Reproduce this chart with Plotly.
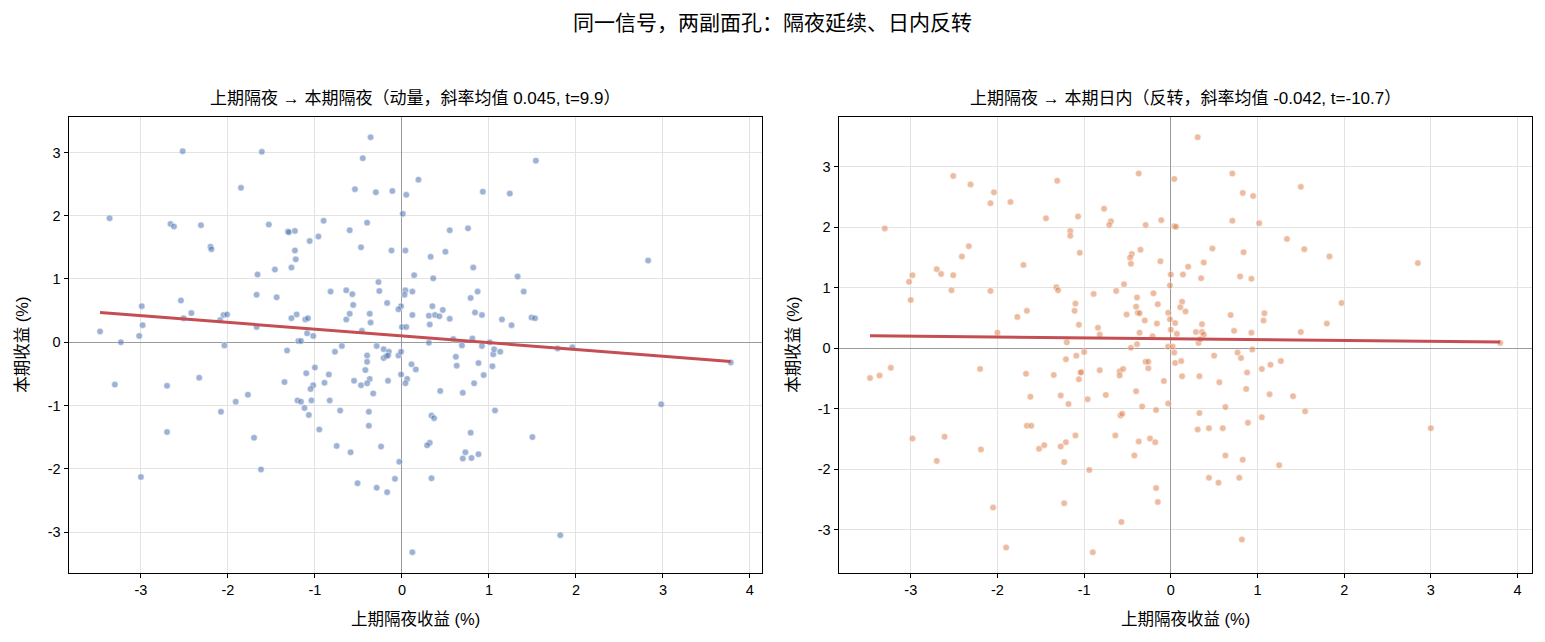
import numpy as np
import plotly.graph_objects as go

# ---------------- data ----------------
left_x = [-2.52,-1.61,-0.36,-0.45,0.19,-1.85,-0.54,-0.30,-0.11,0.05,-3.36,0.01,-2.66,-2.62,-2.31,-1.53,-1.31,-1.30,-1.23,-0.90,
          -0.60,-0.40,-2.20,-2.19,-1.06,-0.96,-1.23,-1.22,-0.47,-0.12,0.04,-1.27,-1.46,-1.66,0.14,-0.27,-0.82,-0.64,-0.57,-0.26,
          0.04,0.12,0.03,-1.67,-1.44,-2.54,-0.56,-0.17,-2.99,-0.01,-0.04,-2.42,-2.51,-2.05,-2.01,-2.09,-1.21,-1.27,-1.11,-1.08,
          -0.60,-0.64,-0.37,-0.36,0.12,-3.47,-2.98,-3.02,-1.67,-0.46,0.00,0.05,-1.09,-1.02,-3.23,-2.04,-1.19,-1.16,-0.69,-0.29,
          1.54,0.93,1.24,0.55,0.76,0.33,0.50,2.83,0.82,0.36,1.33,0.87,1.40,0.79,0.35,0.47,0.31,0.38,0.43,0.55,
          0.84,0.92,1.15,1.26,1.49,1.53,0.32,0.59,0.81,0.31,0.69,0.92,1.01,1.96,1.79,
          -1.32,-0.77,-0.21,-0.15,-0.40,-0.21,-0.18,-0.16,-0.04,-0.01,-0.40,0.11,0.16,-1.00,-1.10,-0.42,-0.37,-0.84,-0.01,0.06,
          0.04,-3.30,-2.70,-2.33,-1.35,-1.02,-1.05,-0.89,-0.55,-0.47,-0.40,-0.16,-0.33,-1.91,-1.77,-1.20,-1.16,-1.04,-0.83,-1.12,
          -1.07,-0.71,-0.38,-2.08,-0.95,-0.38,-2.70,-1.70,-0.75,-0.59,-0.24,-0.03,-1.62,-3.00,-0.51,-0.29,-0.17,-0.08,0.12,
          0.62,0.63,0.88,1.05,1.06,1.13,1.04,0.94,0.83,0.70,0.44,3.78,2.98,1.07,0.34,0.37,0.79,1.50,0.32,0.29,
          0.73,0.88,0.70,0.80,0.34,1.82]
left_y = [3.02,3.01,3.24,2.91,2.57,2.44,2.42,2.37,2.39,2.33,1.96,2.03,1.87,1.83,1.85,1.86,1.75,1.74,1.76,1.92,
          1.77,1.89,1.51,1.47,1.60,1.67,1.45,1.31,1.50,1.45,1.45,1.18,1.15,1.07,1.06,0.95,0.80,0.82,0.76,0.81,
          0.82,0.80,0.75,0.75,0.71,0.66,0.59,0.62,0.57,0.57,0.52,0.46,0.38,0.43,0.44,0.35,0.44,0.38,0.36,0.38,
          0.45,0.36,0.45,0.31,0.43,0.17,0.27,0.10,0.24,0.18,0.24,0.24,0.14,0.10,0.00,-0.05,0.02,0.02,-0.06,-0.06,
          2.87,2.38,2.35,1.77,1.80,1.35,1.43,1.29,1.18,1.01,1.04,0.80,0.80,0.70,0.57,0.51,0.42,0.43,0.41,0.37,
          0.47,0.43,0.36,0.27,0.39,0.38,0.28,0.05,0.06,-0.01,-0.05,-0.06,0.00,-0.08,-0.10,
          -0.13,-0.15,-0.11,-0.15,-0.21,-0.25,-0.22,-0.21,-0.21,-0.15,-0.31,-0.35,-0.43,-0.40,-0.49,-0.44,-0.58,-0.51,-0.51,-0.58,
          -0.65,-0.67,-0.69,-0.56,-0.63,-0.68,-0.74,-0.64,-0.61,-0.68,-0.65,-0.61,-0.81,-0.94,-0.83,-0.92,-0.94,-0.92,-0.92,-1.04,
          -1.15,-1.08,-1.10,-1.10,-1.38,-1.32,-1.42,-1.51,-1.64,-1.74,-1.65,-1.89,-2.01,-2.13,-2.23,-2.30,-2.37,-2.16,-3.32,
          -0.23,-0.37,-0.33,-0.19,-0.11,-0.15,-0.38,-0.52,-0.65,-0.80,-0.77,-0.32,-0.98,-1.08,-1.16,-1.20,-1.43,-1.50,-1.59,-1.63,
          -1.74,-1.77,-1.84,-1.83,-2.15,-3.05]

right_x = [-0.37,0.04,-2.51,-2.31,-2.04,-2.08,-1.85,-1.31,-1.44,-0.77,-1.07,-0.69,-0.71,-0.29,-0.11,0.04,0.06,-3.30,-1.16,-1.16,
           -2.33,-2.41,-1.05,-0.35,-0.45,-0.47,-0.46,-0.12,-1.70,-2.70,-2.65,-2.98,-3.02,-2.51,0.00,0.14,-0.01,-0.54,-2.53,-2.08,
           -1.32,-1.30,-0.89,-0.63,-0.20,-3.00,-0.39,-1.10,-0.15,0.13,0.11,-1.11,-0.40,-0.38,-0.36,-1.66,-1.77,-0.51,-0.30,-0.16,
           -0.03,-0.01,0.05,-1.06,-0.84,-0.82,-2.00,-0.36,-0.21,0.00,0.07,-1.20,-0.46,-0.39,-1.00,-0.03,0.02,
           0.31,0.71,1.50,0.83,0.95,0.71,1.02,1.34,0.48,0.84,1.54,1.83,2.85,0.20,0.38,0.35,0.80,0.93,1.97,0.17,
           0.69,1.08,1.07,1.80,0.36,0.29,0.36,0.38,0.73,0.93,1.50,0.32,0.34,3.80,
           -1.21,-1.09,0.05,0.12,-0.29,-0.26,-0.26,-3.23,-3.36,-3.47,-2.20,-1.67,-1.35,-1.03,-1.04,-0.82,-0.59,-0.55,-0.59,-1.06,
           -0.08,0.13,-0.40,-1.62,-1.27,-1.18,-0.96,-0.75,-0.33,-0.17,-0.03,-0.58,-0.56,-1.66,-1.61,-1.10,-0.64,-2.98,-2.61,-1.52,
           -1.46,-1.27,-1.21,-0.37,-0.24,-0.18,-0.42,-2.19,-2.70,-1.23,-0.94,-0.17,-0.15,-2.05,-1.23,-0.57,-1.90,-0.90,
           0.04,0.50,0.77,0.81,0.94,0.33,0.56,0.88,1.05,1.15,1.27,0.87,1.14,1.41,0.63,0.33,1.05,1.55,0.89,0.31,
           0.44,0.60,3.00,0.63,0.83,1.25,0.44,0.55,0.79,0.82]
right_y = [2.89,2.80,2.85,2.71,2.58,2.40,2.42,2.77,2.15,2.31,2.18,2.10,2.04,2.04,2.12,2.02,2.01,1.98,1.94,1.86,
           1.69,1.52,1.58,1.63,1.56,1.50,1.40,1.44,1.38,1.31,1.23,1.21,1.10,1.21,1.22,1.22,1.04,1.06,0.96,0.95,
           1.01,0.96,0.90,0.95,0.91,0.80,0.84,0.74,0.73,0.77,0.68,0.62,0.69,0.59,0.58,0.62,0.52,0.56,0.46,0.41,
           0.59,0.48,0.42,0.39,0.34,0.23,0.26,0.26,0.20,0.31,0.24,0.10,0.01,0.07,-0.06,0.03,0.03,
           3.49,2.89,2.67,2.57,2.52,2.11,2.07,1.81,1.65,1.59,1.64,1.52,1.41,1.35,1.42,1.16,1.19,1.15,0.75,0.61,
           0.55,0.58,0.46,0.41,0.40,0.27,0.27,0.23,0.29,0.26,0.27,0.09,0.15,0.09,
           -0.18,-0.12,-0.24,-0.21,-0.22,-0.22,-0.33,-0.32,-0.45,-0.49,-0.34,-0.42,-0.44,-0.39,-0.40,-0.36,-0.38,-0.34,-0.45,-0.51,
           -0.54,-0.46,-0.71,-0.80,-0.78,-0.92,-0.84,-0.77,-0.96,-1.02,-0.91,-1.11,-1.08,-1.28,-1.28,-1.44,-1.44,-1.49,-1.46,-1.66,
           -1.60,-1.62,-1.55,-1.54,-1.49,-1.55,-1.77,-1.67,-1.86,-1.88,-2.01,-2.31,-2.54,-2.63,-2.56,-2.87,-3.29,-3.37,
           -0.07,-0.12,-0.07,-0.16,-0.02,-0.46,-0.56,-0.40,-0.34,-0.27,-0.21,-0.67,-0.76,-0.79,-0.97,-1.07,-1.14,-1.04,-1.23,-1.34,
           -1.32,-1.32,-1.32,-1.77,-1.84,-1.93,-2.14,-2.22,-2.14,-3.16]

# fitted lines (intercept, slope) as drawn
left_fit = (0.10, -0.107)
right_fit = (0.16, -0.0145)

x_ticks = [-3, -2, -1, 0, 1, 2, 3, 4]
y_ticks = [-3, -2, -1, 0, 1, 2, 3]

suptitle = "同一信号，两副面孔：隔夜延续、日内反转"
left_title = "上期隔夜 → 本期隔夜（动量，斜率均值 0.045, t=9.9）"
right_title = "上期隔夜 → 本期日内（反转，斜率均值 -0.042, t=-10.7）"
x_label = "上期隔夜收益 (%)"
y_label = "本期收益 (%)"

# ---------------- figure ----------------
FONT = "Liberation Sans, Arial, Noto Sans CJK SC, sans-serif"
W, H = 1545, 642

def pad_range(v):
    lo, hi = min(v), max(v)
    p = (hi - lo) * 0.05
    return [lo - p, hi + p]

fig = go.Figure()

panels = [
    (left_x, left_y, left_fit, "rgba(76,114,176,0.55)", "x", "y"),
    (right_x, right_y, right_fit, "rgba(221,132,82,0.55)", "x2", "y2"),
]
for xs, ys, fit, col, xa, ya in panels:
    fig.add_trace(go.Scatter(
        x=xs, y=ys, mode="markers", xaxis=xa, yaxis=ya, showlegend=False,
        marker=dict(size=6.5, color=col, line=dict(color="white", width=0.5)),
        hoverinfo="skip"))
    lx = np.linspace(min(xs), max(xs), 50)
    ly = fit[0] + fit[1] * lx
    fig.add_trace(go.Scatter(
        x=lx, y=ly, mode="lines", xaxis=xa, yaxis=ya, showlegend=False,
        line=dict(color="#C44E52", width=3), hoverinfo="skip"))

def axis_common():
    return dict(
        showline=True, linecolor="black", linewidth=1, mirror=True,
        ticks="outside", ticklen=4, tickwidth=1, tickcolor="black",
        showgrid=True, gridcolor="#e3e3e3", gridwidth=1,
        zeroline=True, zerolinecolor="#9a9a9a", zerolinewidth=1,
        tickfont=dict(family=FONT, size=14.5, color="black"),
    )

xdom_l = [68.5 / W, 762.3 / W]
xdom_r = [838.5 / W, 1531.7 / W]
ydom = [69 / H, 525.5 / H]

fig.update_layout(
    width=W, height=H, margin=dict(l=0, r=0, t=0, b=0),
    plot_bgcolor="white", paper_bgcolor="white",
    font=dict(family=FONT, color="black"),
)

xt_text = [str(t) for t in x_ticks]
yt_text = [str(t) for t in y_ticks]

fig.update_layout(
    xaxis=dict(domain=xdom_l, anchor="y", range=pad_range(left_x), tickvals=x_ticks, ticktext=xt_text, **axis_common()),
    yaxis=dict(domain=ydom, anchor="x", range=pad_range(left_y), tickvals=y_ticks, ticktext=yt_text, **axis_common()),
    xaxis2=dict(domain=xdom_r, anchor="y2", range=pad_range(right_x), tickvals=x_ticks, ticktext=xt_text, **axis_common()),
    yaxis2=dict(domain=ydom, anchor="x2", range=pad_range(right_y), tickvals=y_ticks, ticktext=yt_text, **axis_common()),
)

def note(text, x, y, size, angle=0):
    fig.add_annotation(text=text, x=x, y=y, xref="paper", yref="paper", showarrow=False,
                       xanchor="center", yanchor="middle", textangle=angle,
                       font=dict(family=FONT, size=size, color="black"))

ymid = 1 - ((116.5 + 573) / 2) / H
note(suptitle, 0.5, 1 - 22 / H, 21)
note(left_title, (xdom_l[0] + xdom_l[1]) / 2, 1 - 99 / H, 17)
note(right_title, (xdom_r[0] + xdom_r[1]) / 2, 1 - 99 / H, 17)
note(x_label, (xdom_l[0] + xdom_l[1]) / 2, 1 - 619 / H, 16.5)
note(x_label, (xdom_r[0] + xdom_r[1]) / 2, 1 - 619 / H, 16.5)
note(y_label, 22 / W, ymid, 16.5, -90)
note(y_label, 793 / W, ymid, 16.5, -90)

fig.write_html("out.html")
